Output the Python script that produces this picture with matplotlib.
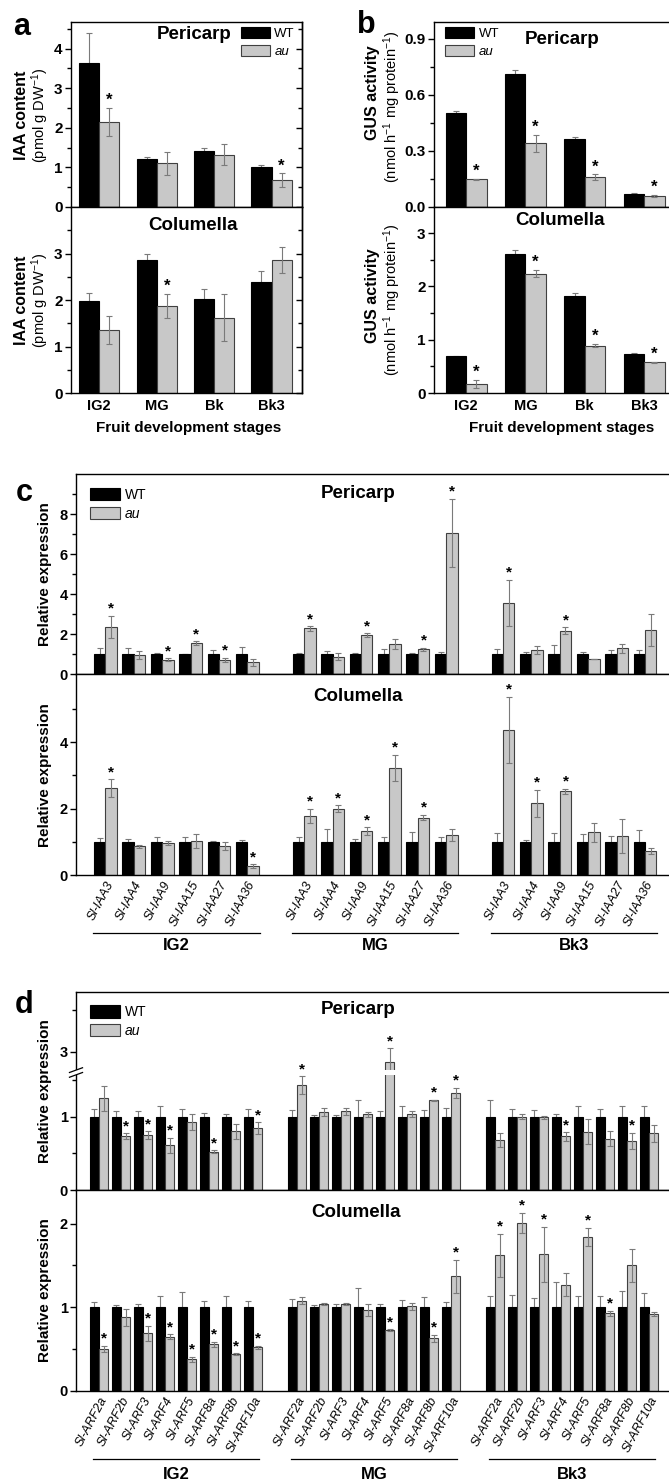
import numpy as np
import matplotlib
matplotlib.use('Agg')
import matplotlib.pyplot as plt
from matplotlib.patches import Patch, Rectangle

plt.rcParams['font.family'] = ['Liberation Sans', 'DejaVu Sans']
plt.rcParams['mathtext.fontset'] = 'custom'
plt.rcParams['mathtext.rm'] = 'Liberation Sans'
plt.rcParams['mathtext.it'] = 'Liberation Sans:italic'
plt.rcParams['mathtext.bf'] = 'Liberation Sans:bold'
plt.rcParams['axes.linewidth'] = 1.0

W, H = 669, 1483
AU_FILL = '#c8c8c8'
AU_EDGE = '#404040'
ERR_COLOR = '#7a7a7a'

# ---------------- data: panel a (IAA content) ----------------
stages_ab = ['IG2', 'MG', 'Bk', 'Bk3']
iaa_peri_wt = [3.63, 1.22, 1.42, 1.01]
iaa_peri_wt_err = [0.75, 0.04, 0.08, 0.05]
iaa_peri_au = [2.14, 1.10, 1.32, 0.68]
iaa_peri_au_err = [0.36, 0.30, 0.26, 0.17]
iaa_peri_sig = [1, 0, 0, 1]
iaa_col_wt = [1.98, 2.85, 2.03, 2.38]
iaa_col_wt_err = [0.18, 0.15, 0.20, 0.25]
iaa_col_au = [1.36, 1.87, 1.62, 2.86]
iaa_col_au_err = [0.30, 0.26, 0.51, 0.27]
iaa_col_sig = [0, 1, 0, 0]

# ---------------- data: panel b (GUS activity) ----------------
gus_peri_wt = [0.505, 0.71, 0.365, 0.072]
gus_peri_wt_err = [0.01, 0.024, 0.01, 0.003]
gus_peri_au = [0.148, 0.34, 0.16, 0.059]
gus_peri_au_err = [0.004, 0.045, 0.015, 0.005]
gus_peri_sig = [1, 1, 1, 1]
gus_col_wt = [0.69, 2.61, 1.82, 0.74]
gus_col_wt_err = [0.01, 0.07, 0.06, 0.01]
gus_col_au = [0.17, 2.24, 0.89, 0.575]
gus_col_au_err = [0.07, 0.07, 0.035, 0.01]
gus_col_sig = [1, 1, 1, 1]

# ---------------- data: panel c (Aux/IAA genes) ----------------
stages_cd = ['IG2', 'MG', 'Bk3']
iaa_genes = ['Sl-IAA3', 'Sl-IAA4', 'Sl-IAA9', 'Sl-IAA15', 'Sl-IAA27', 'Sl-IAA36']
c_peri_wt = [1.0, 1.0, 1.0, 1.0, 1.0, 1.0,
             1.0, 1.0, 1.0, 1.0, 1.0, 1.0,
             1.0, 1.0, 1.0, 1.0, 1.0, 1.0]
c_peri_wt_err = [0.29, 0.29, 0.03, 0.02, 0.21, 0.34,
                 0.03, 0.14, 0.04, 0.24, 0.03, 0.12,
                 0.24, 0.12, 0.45, 0.12, 0.20, 0.20]
c_peri_au = [2.37, 0.95, 0.72, 1.55, 0.72, 0.58,
             2.28, 0.86, 1.93, 1.50, 1.23, 7.05,
             3.57, 1.20, 2.17, 0.75, 1.28, 2.22]
c_peri_au_err = [0.55, 0.20, 0.07, 0.08, 0.10, 0.18,
                 0.12, 0.18, 0.10, 0.25, 0.08, 1.72,
                 1.15, 0.22, 0.18, 0.02, 0.22, 0.80]
c_peri_sig = [1, 0, 1, 1, 1, 0,
              1, 0, 1, 0, 1, 1,
              1, 0, 1, 0, 0, 0]
c_col_wt = [1.0, 1.0, 1.0, 1.0, 1.0, 1.0,
            1.0, 1.0, 1.0, 1.0, 1.0, 1.0,
            1.0, 1.0, 1.0, 1.0, 1.0, 1.0]
c_col_wt_err = [0.10, 0.07, 0.15, 0.13, 0.03, 0.05,
                0.14, 0.38, 0.07, 0.13, 0.30, 0.15,
                0.25, 0.05, 0.27, 0.23, 0.17, 0.36]
c_col_au = [2.62, 0.86, 0.96, 1.02, 0.86, 0.27,
            1.78, 2.00, 1.31, 3.22, 1.73, 1.20,
            4.36, 2.16, 2.52, 1.28, 1.17, 0.72]
c_col_au_err = [0.27, 0.05, 0.05, 0.22, 0.12, 0.05,
                0.22, 0.10, 0.12, 0.40, 0.08, 0.17,
                1.00, 0.40, 0.08, 0.30, 0.52, 0.10]
c_col_sig = [1, 0, 0, 0, 0, 1,
             1, 1, 1, 1, 1, 0,
             1, 1, 1, 0, 0, 0]

# ---------------- data: panel d (ARF genes) ----------------
arf_genes = ['Sl-ARF2a', 'Sl-ARF2b', 'Sl-ARF3', 'Sl-ARF4', 'Sl-ARF5', 'Sl-ARF8a', 'Sl-ARF8b', 'Sl-ARF10a']
d_peri_wt = [1.0, 1.0, 1.0, 1.0, 1.0, 1.0, 1.0, 1.0,
             1.0, 1.0, 1.0, 1.0, 1.0, 1.0, 1.0, 1.0,
             1.0, 1.0, 1.0, 1.0, 1.0, 1.0, 1.0, 1.0]
d_peri_wt_err = [0.10, 0.08, 0.08, 0.15, 0.10, 0.05, 0.04, 0.10,
                 0.09, 0.02, 0.02, 0.22, 0.08, 0.15, 0.09, 0.12,
                 0.22, 0.10, 0.09, 0.04, 0.15, 0.10, 0.15, 0.15]
d_peri_au = [1.25, 0.73, 0.75, 0.61, 0.93, 0.52, 0.80, 0.84,
             1.43, 1.06, 1.07, 1.03, 2.88, 1.03, 1.22, 1.32,
             0.68, 1.00, 0.99, 0.73, 0.79, 0.70, 0.67, 0.77]
d_peri_au_err = [0.17, 0.04, 0.05, 0.10, 0.11, 0.02, 0.10, 0.08,
                 0.12, 0.05, 0.05, 0.03, 0.16, 0.04, 0.01, 0.07,
                 0.09, 0.03, 0.02, 0.06, 0.17, 0.10, 0.11, 0.11]
d_peri_sig = [0, 1, 1, 1, 0, 1, 0, 1,
              1, 0, 0, 0, 1, 0, 1, 1,
              0, 0, 0, 1, 0, 0, 1, 0]
d_col_wt = [1.0, 1.0, 1.0, 1.0, 1.0, 1.0, 1.0, 1.0,
            1.0, 1.0, 1.0, 1.0, 1.0, 1.0, 1.0, 1.0,
            1.0, 1.0, 1.0, 1.0, 1.0, 1.0, 1.0, 1.0]
d_col_wt_err = [0.06, 0.03, 0.04, 0.14, 0.18, 0.07, 0.14, 0.07,
                0.10, 0.03, 0.04, 0.23, 0.04, 0.09, 0.12, 0.06,
                0.13, 0.15, 0.11, 0.30, 0.13, 0.14, 0.20, 0.17]
d_col_au = [0.50, 0.88, 0.69, 0.65, 0.38, 0.56, 0.44, 0.52,
            1.08, 1.04, 1.04, 0.97, 0.73, 1.01, 0.63, 1.37,
            1.62, 2.01, 1.63, 1.27, 1.84, 0.93, 1.50, 0.92]
d_col_au_err = [0.04, 0.10, 0.09, 0.03, 0.03, 0.03, 0.01, 0.02,
                0.04, 0.01, 0.01, 0.07, 0.01, 0.04, 0.04, 0.20,
                0.26, 0.12, 0.33, 0.14, 0.11, 0.03, 0.20, 0.02]
d_col_sig = [1, 0, 1, 1, 1, 1, 1, 1,
             0, 0, 0, 0, 1, 0, 1, 1,
             1, 1, 1, 0, 1, 1, 0, 0]

fig = plt.figure(figsize=(W / 100, H / 100), dpi=100)


def px_axes(l, t, r, b, **kw):
    return fig.add_axes([l / W, 1 - b / H, (r - l) / W, (b - t) / H], **kw)


def ftext(x, y, s, **kw):
    fig.text(x / W, 1 - y / H, s, **kw)


def pair_bars(ax, pos, wt, wt_err, au, au_err, sig, width, cap, star_fs):
    pos = np.asarray(pos, dtype=float)
    ax.bar(pos - width / 2, wt, width, color='black', edgecolor='black', lw=0.8, zorder=2)
    ax.bar(pos + width / 2, au, width, color=AU_FILL, edgecolor=AU_EDGE, lw=0.8, zorder=2)
    ax.errorbar(pos - width / 2, wt, yerr=wt_err, fmt='none', ecolor=ERR_COLOR,
                elinewidth=0.8, capsize=cap, capthick=0.8, zorder=1)
    ax.errorbar(pos + width / 2, au, yerr=au_err, fmt='none', ecolor=ERR_COLOR,
                elinewidth=0.8, capsize=cap, capthick=0.8, zorder=3)
    for x, v, e, s in zip(pos + width / 2, au, au_err, sig):
        if s:
            ax.annotate('*', (x, v + e), xytext=(0, 0), textcoords='offset points',
                        ha='center', va='bottom', fontsize=star_fs, fontweight='bold')


def style_y(ax, major, minor, labels, fs=10.5):
    ax.set_yticks(major)
    ax.set_yticks(minor, minor=True)
    ax.set_yticklabels(labels)
    ax.tick_params(axis='y', which='major', direction='out', length=4, width=1, labelsize=fs, pad=2)
    ax.tick_params(axis='y', which='minor', direction='out', length=3, width=1)
    for t in ax.get_yticklabels():
        t.set_fontweight('bold')
    ax.tick_params(axis='x', length=0)


def right_ticks(ax, major, minor):
    sec = ax.secondary_yaxis('right')
    sec.set_yticks(major)
    sec.set_yticks(minor, minor=True)
    sec.tick_params(axis='y', which='both', direction='in', labelright=False, width=1)
    sec.tick_params(axis='y', which='major', length=4)
    sec.tick_params(axis='y', which='minor', length=3)


def add_legend(ax, x, y, fs):
    handles = [Patch(facecolor='black', edgecolor='black', lw=0.8),
               Patch(facecolor=AU_FILL, edgecolor=AU_EDGE, lw=0.8)]
    leg = ax.legend(handles, ['WT', 'au'], loc='upper left', bbox_to_anchor=(x, y),
                    frameon=False, fontsize=fs, handlelength=2.2, handleheight=1.0,
                    labelspacing=0.35, handletextpad=0.35, borderpad=0, borderaxespad=0)
    leg.get_texts()[1].set_style('italic')


def title(ax, x, y, s):
    ax.text(x, y, s, transform=ax.transAxes, ha='center', va='center',
            fontsize=13.5, fontweight='bold')


# ================= panel a =================
xa = np.arange(len(stages_ab))
a1 = px_axes(71, 22, 302, 207)
a2 = px_axes(71, 207, 302, 393, sharex=a1)
pair_bars(a1, xa, iaa_peri_wt, iaa_peri_wt_err, iaa_peri_au, iaa_peri_au_err, iaa_peri_sig, 0.35, 2.5, 12)
pair_bars(a2, xa, iaa_col_wt, iaa_col_wt_err, iaa_col_au, iaa_col_au_err, iaa_col_sig, 0.35, 2.5, 12)
a1.set_xlim(-0.49, 3.53)
a1.set_ylim(0, 4.67)
a2.set_ylim(0, 4.0)
style_y(a1, [0, 1, 2, 3, 4], [0.5, 1.5, 2.5, 3.5, 4.5], ['0', '1', '2', '3', '4'], 11)
style_y(a2, [0, 1, 2, 3], [0.5, 1.5, 2.5, 3.5], ['0', '1', '2', '3'], 11)
right_ticks(a1, [0, 1, 2, 3, 4], [0.5, 1.5, 2.5, 3.5, 4.5])
right_ticks(a2, [0, 1, 2, 3], [0.5, 1.5, 2.5, 3.5])
a1.tick_params(axis='x', labelbottom=False)
a2.set_xticks(xa)
a2.set_xticklabels(stages_ab, fontsize=10.5, fontweight='bold')
a2.tick_params(axis='x', length=0, pad=4)
add_legend(a1, 0.735, 0.975, 9.5)
title(a1, 0.532, 0.93, 'Pericarp')
title(a2, 0.526, 0.903, 'Columella')
for yc in (115, 300):
    ftext(21.5, yc, 'IAA content', rotation=90, ha='center', va='center', fontsize=11.5, fontweight='bold')
    ftext(40, yc, '(pmol g DW$^{-1}$)', rotation=90, ha='center', va='center', fontsize=10.5)
ftext(189, 428, 'Fruit development stages', ha='center', va='center', fontsize=11, fontweight='bold')

# ================= panel b =================
b1 = px_axes(434, 22, 672, 207)
b2 = px_axes(434, 207, 672, 393, sharex=b1)
pair_bars(b1, xa, gus_peri_wt, gus_peri_wt_err, gus_peri_au, gus_peri_au_err, gus_peri_sig, 0.345, 2.5, 12)
pair_bars(b2, xa, gus_col_wt, gus_col_wt_err, gus_col_au, gus_col_au_err, gus_col_sig, 0.345, 2.5, 12)
b1.set_xlim(-0.54, 3.47)
b1.set_ylim(0, 0.99)
b2.set_ylim(0, 3.49)
style_y(b1, [0, 0.3, 0.6, 0.9], [0.15, 0.45, 0.75], ['0.0', '0.3', '0.6', '0.9'], 11)
style_y(b2, [0, 1, 2, 3], [0.5, 1.5, 2.5], ['0', '1', '2', '3'], 11)
b1.tick_params(axis='x', labelbottom=False)
b2.set_xticks(xa)
b2.set_xticklabels(stages_ab, fontsize=10.5, fontweight='bold')
b2.tick_params(axis='x', length=0, pad=4)
add_legend(b1, 0.046, 0.975, 9.5)
title(b1, 0.54, 0.903, 'Pericarp')
title(b2, 0.529, 0.925, 'Columella')
ftext(373, 93, 'GUS activity', rotation=90, ha='center', va='center', fontsize=11.5, fontweight='bold')
ftext(392, 107, '(nmol h$^{-1}$ mg protein$^{-1}$)', rotation=90, ha='center', va='center', fontsize=10.5)
ftext(373, 296, 'GUS activity', rotation=90, ha='center', va='center', fontsize=11.5, fontweight='bold')
ftext(392, 300, '(nmol h$^{-1}$ mg protein$^{-1}$)', rotation=90, ha='center', va='center', fontsize=10.5)
ftext(561.7, 428, 'Fruit development stages', ha='center', va='center', fontsize=11, fontweight='bold')


# ================= panels c and d helpers =================
def group_positions(n_groups, n_genes):
    return np.array([g * (n_genes + 1) + i for g in range(n_groups) for i in range(n_genes)], dtype=float)


def gene_axis(ax, pos, genes, n_genes, half_len, line_y, label_y):
    ax.set_xticks(pos)
    ax.set_xticklabels(genes * len(stages_cd), rotation=62, ha='right', va='top',
                       rotation_mode='anchor', style='italic', fontsize=9)
    ax.tick_params(axis='x', length=0, pad=3)
    tr = ax.get_xaxis_transform()
    for g, stage in enumerate(stages_cd):
        p = pos[g * n_genes:(g + 1) * n_genes]
        xc = p.mean()
        ax.plot([xc - half_len, xc + half_len], [line_y, line_y], transform=tr,
                clip_on=False, color='black', lw=0.9)
        ax.text(xc, label_y, stage, transform=tr, ha='center', va='center',
                fontsize=12, fontweight='bold')


# ================= panel c =================
xc_pos = group_positions(len(stages_cd), len(iaa_genes))
c1 = px_axes(76, 474, 672, 674)
c2 = px_axes(76, 674, 672, 875, sharex=c1)
pair_bars(c1, xc_pos, c_peri_wt, c_peri_wt_err, c_peri_au, c_peri_au_err, c_peri_sig, 0.4, 2, 11)
pair_bars(c2, xc_pos, c_col_wt, c_col_wt_err, c_col_au, c_col_au_err, c_col_sig, 0.4, 2, 11)
c1.set_xlim(-1.035, 19.95)
c1.set_ylim(0, 10)
c2.set_ylim(0, 6.05)
style_y(c1, [0, 2, 4, 6, 8], [1, 3, 5, 7, 9], ['0', '2', '4', '6', '8'])
style_y(c2, [0, 2, 4], [1, 3, 5], ['0', '2', '4'])
c1.tick_params(axis='x', labelbottom=False)
gene_axis(c2, xc_pos, iaa_genes, len(iaa_genes), 2.93, -0.287, -0.35)
add_legend(c1, 0.023, 0.93, 10)
title(c1, 0.473, 0.905, 'Pericarp')
title(c2, 0.473, 0.887, 'Columella')
ftext(44.8, 574, 'Relative expression', rotation=90, ha='center', va='center', fontsize=11, fontweight='bold')
ftext(44.8, 775, 'Relative expression', rotation=90, ha='center', va='center', fontsize=11, fontweight='bold')

# ================= panel d =================
B1, B2, K = 1.6, 2.75, 1.13   # broken y axis: 1.6 -> 2.75
D_TOP = 3.72


def fwd(y):
    y = np.asarray(y, dtype=float)
    return np.where(y <= B1, y, np.where(y >= B2, B1 + (y - B2) * K, B1))


def inv(y):
    y = np.asarray(y, dtype=float)
    return np.where(y <= B1, y, B2 + (y - B1) / K)


xd_pos = group_positions(len(stages_cd), len(arf_genes))
d1 = px_axes(76, 992, 670, 1190)
d2 = px_axes(76, 1190, 670, 1391, sharex=d1)
d1.set_yscale('function', functions=(fwd, inv))
pair_bars(d1, xd_pos, d_peri_wt, d_peri_wt_err, d_peri_au, d_peri_au_err, d_peri_sig, 0.42, 2, 11)
pair_bars(d2, xd_pos, d_col_wt, d_col_wt_err, d_col_au, d_col_au_err, d_col_sig, 0.42, 2, 11)
d1.set_xlim(-1.045, 25.95)
d1.set_ylim(0, D_TOP)
d2.set_ylim(0, 2.4)
style_y(d1, [0, 1, 3], [0.5, 1.5, 3.5], ['0', '1', '3'])
style_y(d2, [0, 1, 2], [0.5, 1.5], ['0', '1', '2'])
d1.tick_params(axis='x', labelbottom=False)
gene_axis(d2, xd_pos, arf_genes, len(arf_genes), 3.78, -0.34, -0.414)
add_legend(d1, 0.023, 0.934, 10)
title(d1, 0.475, 0.914, 'Pericarp')
title(d2, 0.471, 0.886, 'Columella')
ftext(44.8, 1091, 'Relative expression', rotation=90, ha='center', va='center', fontsize=11, fontweight='bold')
ftext(44.8, 1290, 'Relative expression', rotation=90, ha='center', va='center', fontsize=11, fontweight='bold')

# axis break marks
frac = float(fwd(B1) / fwd(D_TOP))
d1.add_patch(Rectangle((-0.02, frac - 0.012), 1.02, 0.024, transform=d1.transAxes,
                       facecolor='white', edgecolor='none', zorder=4, clip_on=False))
for c in (frac - 0.012, frac + 0.012):
    d1.plot([-0.011, 0.011], [c - 0.012, c + 0.012], transform=d1.transAxes,
            color='black', lw=0.9, clip_on=False, zorder=5)

# panel letters
for letter, x, y in [('a', 13, 35), ('b', 357, 33), ('c', 16, 501), ('d', 15, 1013)]:
    ftext(x, y, letter, fontsize=22, fontweight='bold', ha='left', va='baseline')

fig.savefig('out.png', dpi=100)
